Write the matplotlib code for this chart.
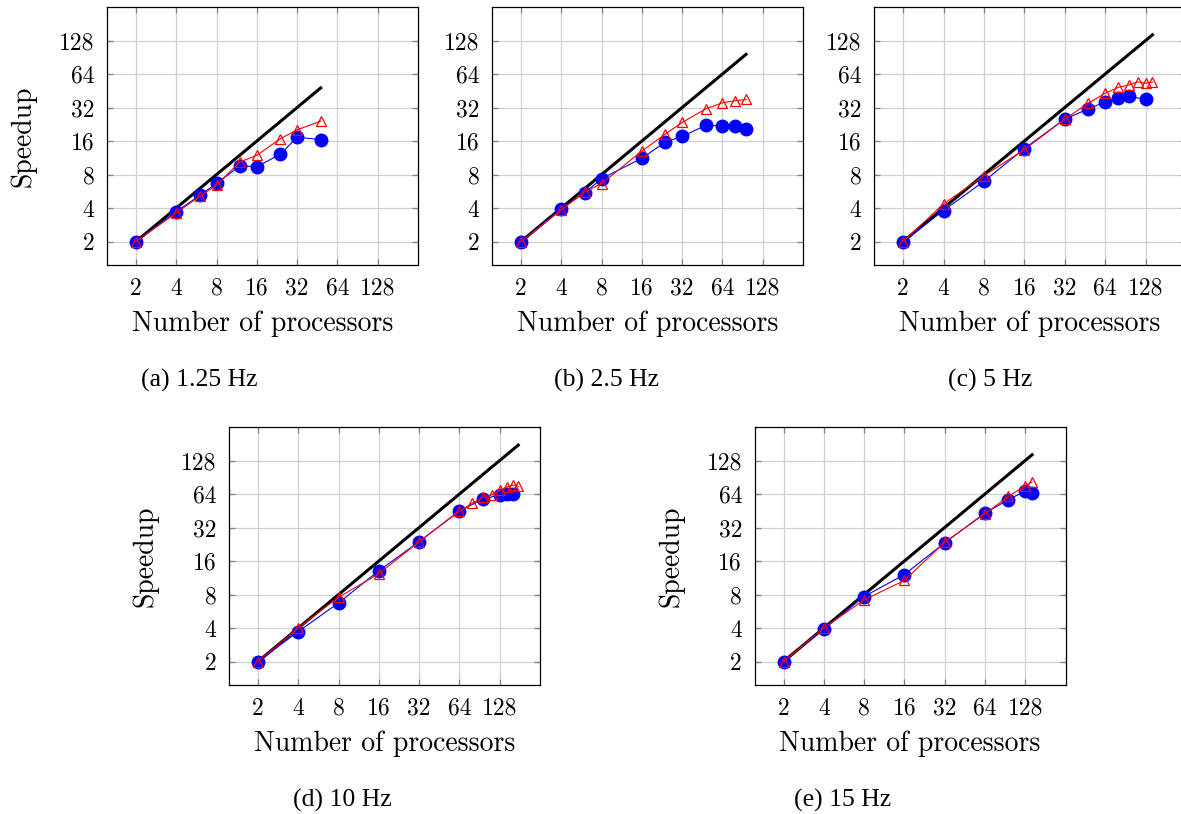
import matplotlib
matplotlib.use('Agg')
import matplotlib.pyplot as plt
import matplotlib.ticker as mticker

plt.rcParams['font.family'] = 'cmr10'
plt.rcParams['axes.formatter.use_mathtext'] = True

W, H = 1181, 814

# (a) 1.25 Hz
a_x_blue = [2, 4, 6, 8, 12, 16, 24, 32, 48]
a_y_blue = [2, 3.72, 5.2, 6.65, 9.6, 9.4, 12.2, 17.3, 16.5]
a_x_red = [2, 4, 6, 8, 12, 16, 24, 32, 48]
a_y_red = [2, 3.62, 5.1, 6.45, 10.4, 11.9, 16.8, 20.2, 24.1]

# (b) 2.5 Hz
b_x_blue = [2, 4, 6, 8, 16, 24, 32, 48, 64, 80, 96]
b_y_blue = [2, 3.95, 5.5, 7.35, 11.2, 15.7, 17.6, 22.1, 22.0, 22.0, 20.4]
b_x_red = [2, 4, 6, 8, 16, 24, 32, 48, 64, 80, 96]
b_y_red = [2, 3.85, 5.6, 6.63, 13.0, 18.5, 23.5, 31.1, 35.3, 36.8, 37.8]

# (c) 5 Hz
c_x_blue = [2, 4, 8, 16, 32, 48, 64, 80, 96, 128]
c_y_blue = [2, 3.8, 6.95, 13.7, 25.2, 31.1, 36.0, 38.6, 40.2, 38.0]
c_x_red = [2, 4, 8, 16, 32, 48, 64, 80, 96, 112, 128, 144]
c_y_red = [2, 4.35, 7.8, 13.4, 25.2, 35.0, 43.0, 48.5, 51.0, 54.5, 53.0, 54.0]

# (d) 10 Hz
d_x_blue = [2, 4, 8, 16, 32, 64, 96, 128, 144, 160]
d_y_blue = [2, 3.72, 6.73, 13.1, 23.9, 45.2, 57.5, 63.0, 63.5, 64.0]
d_x_red = [2, 4, 8, 16, 32, 64, 80, 96, 112, 128, 144, 160, 176]
d_y_red = [2, 4.0, 7.57, 12.3, 23.9, 44.8, 53.0, 60.0, 63.0, 69.0, 74.0, 77.0, 75.0]

# (e) 15 Hz
e_x_blue = [2, 4, 8, 16, 32, 64, 96, 128, 144]
e_y_blue = [2, 3.93, 7.67, 12.1, 23.3, 43.2, 57.0, 68.0, 66.0]
e_x_red = [2, 4, 8, 16, 32, 64, 96, 128, 144]
e_y_red = [2, 4.0, 7.16, 10.7, 23.6, 42.5, 61.0, 76.0, 82.0]

ticks = [2, 4, 8, 16, 32, 64, 128]

panels = [
    # left, top, right, bottom (px), ylabel?, caption, caption x, caption y
    ((107, 7, 418, 265), True, '(a) 1.25 Hz', 199, 380,
     a_x_blue, a_y_blue, a_x_red, a_y_red),
    ((492, 7, 803, 265), False, '(b) 2.5 Hz', 607, 380,
     b_x_blue, b_y_blue, b_x_red, b_y_red),
    ((874, 7, 1186, 265), False, '(c) 5 Hz', 990, 380,
     c_x_blue, c_y_blue, c_x_red, c_y_red),
    ((229, 427, 540, 685), True, '(d) 10 Hz', 342, 800,
     d_x_blue, d_y_blue, d_x_red, d_y_red),
    ((754.5, 427, 1065.5, 685), True, '(e) 15 Hz', 843, 800,
     e_x_blue, e_y_blue, e_x_red, e_y_red),
]

fig = plt.figure(figsize=(W / 100, H / 100), dpi=100)

for (l, t, r, b), ylab, cap, cx, cy, xb, yb, xr, yr in panels:
    ax = fig.add_axes([l / W, 1 - b / H, (r - l) / W, (b - t) / H])
    ax.set_xscale('log', base=2)
    ax.set_yscale('log', base=2)
    ax.set_xlim(2 ** 0.28, 256)
    ax.set_ylim(2 ** 0.30, 256)

    xmax = max(xr + xb)
    ax.plot([2, xmax], [2, xmax], color='black', lw=2.2, zorder=3)
    ax.plot(xb, yb, color='blue', lw=0.8, marker='o', ms=9,
            mfc='blue', mec='blue', zorder=4)
    ax.plot(xr, yr, color='red', lw=0.8, marker='^', ms=7.5,
            mfc='none', mec='red', mew=0.9, zorder=5)

    ax.xaxis.set_major_locator(mticker.FixedLocator(ticks))
    ax.yaxis.set_major_locator(mticker.FixedLocator(ticks))
    ax.xaxis.set_minor_locator(mticker.NullLocator())
    ax.yaxis.set_minor_locator(mticker.NullLocator())
    ax.set_xticklabels([str(v) for v in ticks])
    ax.set_yticklabels([str(v) for v in ticks])
    ax.grid(True, color='#d0d0d0', lw=0.9, zorder=0)
    ax.set_axisbelow(True)
    ax.tick_params(direction='in', length=4, width=0.9, color='#808080',
                   top=True, right=True, labelsize=17, pad=9)
    for s in ax.spines.values():
        s.set_linewidth(0.9)
        s.set_color('black')

    ax.set_xlabel('Number of processors', fontsize=20, labelpad=8)
    if ylab:
        ax.set_ylabel('Speedup', fontsize=20, labelpad=16)

    fig.text(cx / W, 1 - cy / H, cap, ha='center', va='center',
             fontsize=18.5, family=['Liberation Serif', 'DejaVu Serif'])

fig.savefig('out.png', dpi=100)
